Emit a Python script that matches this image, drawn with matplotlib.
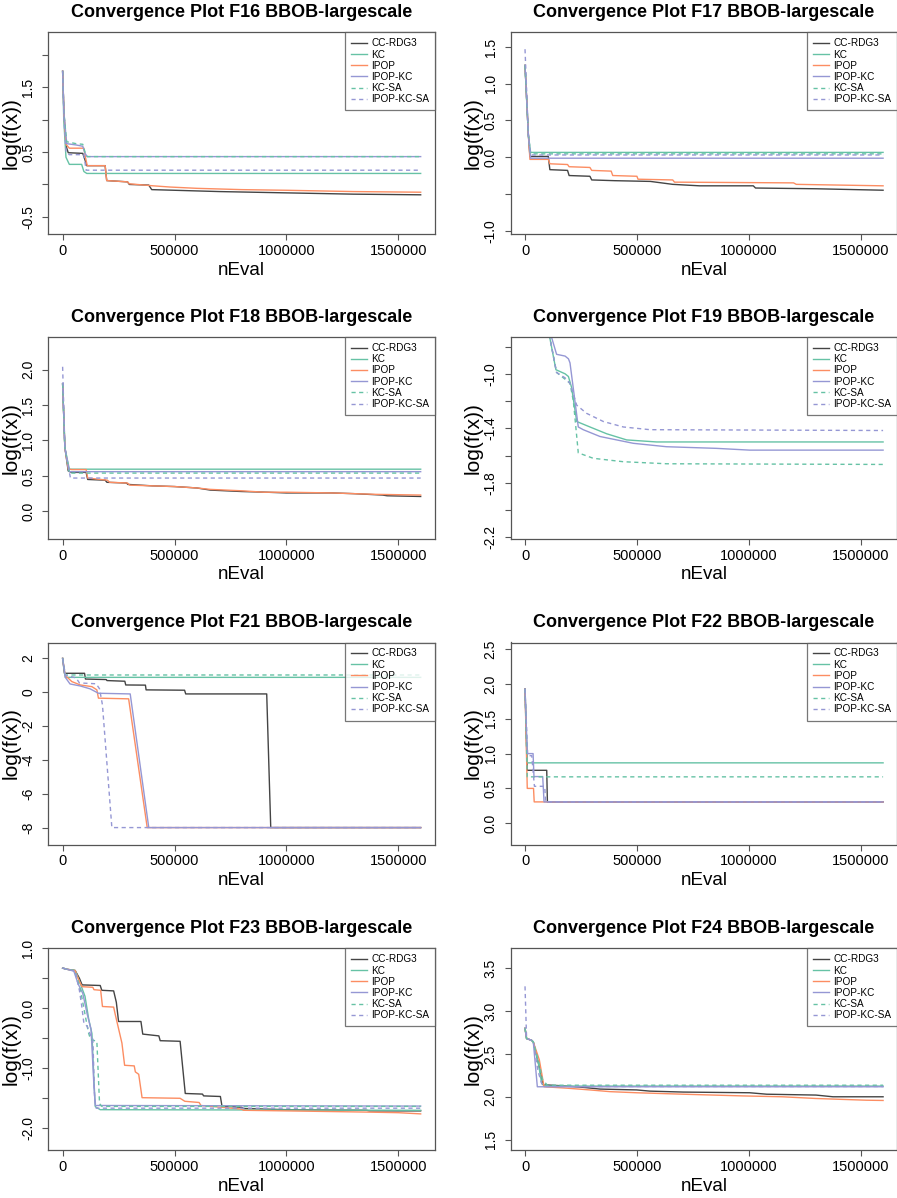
import matplotlib

matplotlib.use("Agg")

import matplotlib.pyplot as plt
import numpy as np

plt.rcParams["font.family"] = ["Liberation Sans", "DejaVu Sans"]

METHODS = ["CC-RDG3", "KC", "IPOP", "IPOP-KC", "KC-SA", "IPOP-KC-SA"]
X_TICKS = [0, 500000, 1000000, 1500000]
X_TICK_LABELS = ["0", "500000", "1000000", "1500000"]

# (nEval in thousands, log(f(x)))
F16 = {
    "CC-RDG3": [(0, 1.75), (6, 1.1), (15, 0.6), (25, 0.49), (90, 0.48), (98, 0.4), (108, 0.29), (190, 0.29),
                (197, 0.06), (290, 0.04), (298, 0.0), (385, -0.01), (398, -0.08), (500, -0.09), (700, -0.11),
                (1000, -0.13), (1300, -0.15), (1600, -0.16)],
    "KC": [(0, 1.75), (5, 1.0), (15, 0.42), (30, 0.31), (85, 0.31), (95, 0.2), (108, 0.17), (1600, 0.17)],
    "IPOP": [(0, 1.75), (6, 1.1), (15, 0.62), (30, 0.56), (95, 0.56), (102, 0.42), (110, 0.29), (190, 0.29),
             (197, 0.06), (290, 0.04), (298, 0.01), (400, -0.02), (480, -0.04), (600, -0.06), (800, -0.08),
             (1000, -0.09), (1300, -0.11), (1600, -0.12)],
    "IPOP-KC": [(0, 1.75), (6, 1.1), (18, 0.63), (60, 0.61), (90, 0.59), (100, 0.48), (110, 0.43), (1600, 0.43)],
    "KC-SA": [(0, 1.75), (6, 1.1), (18, 0.66), (60, 0.63), (90, 0.62), (100, 0.5), (110, 0.43), (1600, 0.43)],
    "IPOP-KC-SA": [(0, 1.75), (6, 1.0), (15, 0.5), (30, 0.46), (95, 0.46), (105, 0.22), (1600, 0.22)],
}
F17 = {
    "CC-RDG3": [(0, 1.25), (15, 0.3), (22, 0.01), (104, 0.01), (111, -0.17), (190, -0.18), (197, -0.25),
                (290, -0.26), (298, -0.31), (400, -0.32), (560, -0.33), (660, -0.37), (780, -0.39),
                (1020, -0.39), (1030, -0.42), (1300, -0.43), (1600, -0.45)],
    "KC": [(0, 1.25), (15, 0.3), (25, 0.065), (1600, 0.065)],
    "IPOP": [(0, 1.25), (15, 0.3), (22, -0.03), (104, -0.03), (111, -0.09), (190, -0.1), (197, -0.13),
             (290, -0.14), (298, -0.18), (385, -0.19), (392, -0.25), (500, -0.26), (505, -0.3), (660, -0.31),
             (668, -0.34), (1200, -0.35), (1212, -0.37), (1600, -0.39)],
    "IPOP-KC": [(0, 1.25), (15, 0.3), (25, -0.014), (1600, -0.014)],
    "KC-SA": [(0, 1.25), (15, 0.3), (25, 0.045), (1600, 0.045)],
    "IPOP-KC-SA": [(0, 1.47), (15, 0.3), (25, 0.03), (1600, 0.03)],
}
F18 = {
    "CC-RDG3": [(0, 1.8), (10, 0.9), (25, 0.57), (40, 0.55), (105, 0.55), (112, 0.45), (190, 0.44),
                (198, 0.41), (285, 0.4), (292, 0.38), (400, 0.36), (500, 0.35), (600, 0.33), (660, 0.3),
                (800, 0.28), (912, 0.27), (1000, 0.26), (1200, 0.26), (1300, 0.25), (1430, 0.23),
                (1450, 0.22), (1600, 0.21)],
    "KC": [(0, 1.8), (10, 0.9), (30, 0.595), (1600, 0.595)],
    "IPOP": [(0, 1.8), (10, 0.9), (25, 0.6), (40, 0.59), (105, 0.59), (112, 0.47), (200, 0.44), (210, 0.41),
             (290, 0.4), (300, 0.37), (400, 0.36), (500, 0.35), (600, 0.33), (660, 0.31), (800, 0.29),
             (900, 0.27), (1000, 0.27), (1200, 0.26), (1400, 0.24), (1600, 0.23)],
    "IPOP-KC": [(0, 1.8), (10, 0.9), (30, 0.56), (1600, 0.56)],
    "KC-SA": [(0, 1.8), (10, 0.9), (30, 0.54), (1600, 0.54)],
    "IPOP-KC-SA": [(0, 2.04), (10, 0.9), (35, 0.47), (1600, 0.47)],
}
F19 = {
    "CC-RDG3": [],
    "KC": [(95, -0.6), (138, -0.97), (179, -1.0), (194, -1.02), (208, -1.1), (231, -1.35), (290, -1.39),
           (365, -1.44), (454, -1.485), (588, -1.5), (1600, -1.5)],
    "IPOP": [],
    "IPOP-KC": [(95, -0.6), (141, -0.857), (179, -0.87), (194, -0.89), (201, -0.92), (238, -1.39),
                (260, -1.41), (335, -1.46), (484, -1.51), (632, -1.535), (856, -1.547), (1004, -1.56),
                (1600, -1.56)],
    "KC-SA": [(95, -0.6), (141, -0.99), (179, -1.04), (201, -1.07), (216, -1.2), (238, -1.58), (305, -1.62),
              (439, -1.645), (632, -1.66), (1600, -1.665)],
    "IPOP-KC-SA": [(95, -0.6), (141, -0.99), (179, -1.03), (201, -1.07), (231, -1.23), (275, -1.29),
                   (350, -1.35), (439, -1.39), (558, -1.41), (1600, -1.416)],
}
F21 = {
    "CC-RDG3": [(0, 2.0), (8, 1.12), (98, 1.12), (102, 0.78), (195, 0.75), (198, 0.69), (278, 0.65),
                (282, 0.43), (370, 0.42), (373, 0.14), (545, 0.12), (550, -0.1), (912, -0.1), (930, -8.0),
                (1600, -8.0)],
    "KC": [(0, 2.0), (12, 0.88), (1600, 0.88)],
    "IPOP": [(0, 2.0), (12, 0.96), (26, 0.82), (41, 0.63), (79, 0.43), (131, 0.33), (153, 0.14), (160, -0.35),
             (295, -0.39), (378, -8.0), (1600, -8.0)],
    "IPOP-KC": [(0, 2.0), (12, 0.88), (33, 0.49), (79, 0.37), (123, 0.2), (160, -0.06), (302, -0.1),
                (385, -8.0), (1600, -8.0)],
    "KC-SA": [(0, 2.0), (12, 1.02), (1600, 1.02)],
    "IPOP-KC-SA": [(0, 2.0), (12, 1.0), (60, 0.85), (75, 0.55), (150, 0.5), (165, 0.2), (178, -0.75),
                   (220, -8.0), (1600, -8.0)],
}
F22 = {
    "CC-RDG3": [(0, 1.93), (10, 0.76), (97, 0.76), (100, 0.306), (1600, 0.306)],
    "KC": [(0, 1.93), (10, 0.867), (1600, 0.867)],
    "IPOP": [(0, 1.93), (10, 0.5), (38, 0.5), (41, 0.306), (1600, 0.306)],
    "IPOP-KC": [(0, 1.93), (10, 1.0), (36, 1.0), (40, 0.67), (79, 0.67), (85, 0.306), (1600, 0.306)],
    "KC-SA": [(0, 1.93), (10, 0.666), (1600, 0.666)],
    "IPOP-KC-SA": [(0, 1.93), (12, 0.97), (30, 0.97), (42, 0.53), (88, 0.53), (92, 0.306), (1600, 0.306)],
}
F23 = {
    "CC-RDG3": [(0, 0.67), (20, 0.65), (56, 0.63), (75, 0.5), (87, 0.39), (168, 0.38), (175, 0.3), (228, 0.29),
                (240, 0.1), (250, -0.22), (350, -0.22), (358, -0.43), (430, -0.46), (436, -0.54), (525, -0.55),
                (548, -1.42), (625, -1.43), (630, -1.46), (705, -1.47), (712, -1.63), (800, -1.65),
                (808, -1.67), (1000, -1.69), (1358, -1.7), (1370, -1.71), (1600, -1.71)],
    "KC": [(0, 0.67), (20, 0.65), (56, 0.63), (80, 0.4), (100, 0.2), (117, -0.19), (131, -0.42), (140, -1.2),
           (146, -1.64), (168, -1.69), (1600, -1.7)],
    "IPOP": [(0, 0.67), (20, 0.65), (56, 0.63), (75, 0.45), (87, 0.36), (135, 0.35), (140, 0.31), (170, 0.3),
             (178, 0.03), (228, 0.02), (235, -0.1), (265, -0.58), (277, -0.95), (320, -0.96), (325, -1.06),
             (340, -1.1), (355, -1.49), (525, -1.5), (546, -1.55), (610, -1.57), (618, -1.62), (800, -1.68),
             (808, -1.7), (1000, -1.71), (1358, -1.73), (1500, -1.74), (1600, -1.76)],
    "IPOP-KC": [(0, 0.67), (20, 0.65), (50, 0.62), (70, 0.4), (90, 0.25), (110, -0.1), (127, -0.35),
                (140, -1.3), (146, -1.62), (1600, -1.63)],
    "KC-SA": [(0, 0.67), (20, 0.65), (56, 0.63), (80, 0.3), (115, -0.4), (125, -0.52), (153, -0.55),
              (165, -1.59), (175, -1.635), (1600, -1.635)],
    "IPOP-KC-SA": [(0, 0.67), (20, 0.65), (56, 0.62), (75, 0.3), (85, 0.05), (95, -0.25), (110, -0.3),
                   (125, -0.45), (135, -0.5), (143, -1.5), (150, -1.665), (1600, -1.665)],
}
F24 = {
    "CC-RDG3": [(0, 2.8), (7, 2.68), (29, 2.66), (37, 2.64), (60, 2.39), (81, 2.14), (156, 2.13), (260, 2.11),
                (335, 2.09), (499, 2.08), (558, 2.066), (707, 2.055), (1004, 2.047), (1080, 2.03),
                (1300, 2.02), (1376, 2.0), (1600, 2.0)],
    "KC": [(0, 2.8), (7, 2.68), (29, 2.66), (37, 2.64), (60, 2.39), (74, 2.16), (97, 2.125), (1600, 2.125)],
    "IPOP": [(0, 2.8), (7, 2.68), (29, 2.66), (37, 2.64), (64, 2.43), (85, 2.117), (190, 2.1), (290, 2.08),
             (379, 2.06), (499, 2.047), (707, 2.03), (975, 2.01), (1150, 2.0), (1300, 1.98), (1525, 1.96),
             (1600, 1.957)],
    "IPOP-KC": [(0, 2.8), (7, 2.68), (29, 2.66), (37, 2.64), (55, 2.117), (1600, 2.117)],
    "KC-SA": [(0, 2.8), (7, 2.68), (29, 2.66), (37, 2.64), (62, 2.4), (78, 2.2), (100, 2.135), (1600, 2.135)],
    "IPOP-KC-SA": [(0, 3.29), (7, 2.68), (29, 2.66), (37, 2.64), (58, 2.3), (75, 2.15), (95, 2.12),
                   (1600, 2.12)],
}

# name, data, ylim, y ticks, y tick labels ("" = tick without label)
PANELS = [
    ("F16", F16, (-0.77, 2.35), [-0.5, 0.0, 0.5, 1.0, 1.5, 2.0], ["-0.5", "", "0.5", "", "1.5", ""]),
    ("F17", F17, (-1.05, 1.70), [-1.0, -0.5, 0.0, 0.5, 1.0, 1.5], ["-1.0", "", "0.0", "0.5", "1.0", "1.5"]),
    ("F18", F18, (-0.39, 2.46), [0.0, 0.5, 1.0, 1.5, 2.0], ["0.0", "0.5", "1.0", "1.5", "2.0"]),
    ("F19", F19, (-2.212, -0.73), [-2.2, -2.0, -1.8, -1.6, -1.4, -1.2, -1.0, -0.8],
     ["-2.2", "", "-1.8", "", "-1.4", "", "-1.0", ""]),
    ("F21", F21, (-9.0, 2.94), [-8, -6, -4, -2, 0, 2], ["-8", "-6", "-4", "-2", "0", "2"]),
    ("F22", F22, (-0.306, 2.596), [0.0, 0.5, 1.0, 1.5, 2.0, 2.5], ["0.0", "0.5", "1.0", "1.5", "2.0", "2.5"]),
    ("F23", F23, (-2.367, 1.0), [-2.0, -1.5, -1.0, -0.5, 0.0, 0.5, 1.0], ["-2.0", "", "-1.0", "", "0.0", "", "1.0"]),
    ("F24", F24, (1.375, 3.734), [1.5, 2.0, 2.5, 3.0, 3.5], ["1.5", "2.0", "2.5", "3.0", "3.5"]),
]

COLORS = {"CC-RDG3": "#444444", "KC": "#66C2A5", "IPOP": "#FC8D62", "IPOP-KC": "#9597D4",
          "KC-SA": "#66C2A5", "IPOP-KC-SA": "#9597D4"}
FRAME = "#555555"

W, H = 897, 1198
fig = plt.figure(figsize=(W / 100, H / 100), dpi=100)

col_left = [48.3, 510.7]
row_top = [32.3, 337.0, 642.5, 948.3]
box_w, box_h = 386.7, 202.0

for i, (name, data, ylim, yticks, ylabels) in enumerate(PANELS):
    r, c = divmod(i, 2)
    ax = fig.add_axes([col_left[c] / W, 1 - (row_top[r] + box_h) / H, box_w / W, box_h / H])
    for m in METHODS:
        pts = np.array(data[m], dtype=float).reshape(-1, 2)
        ls = (0, (3, 2.5)) if m.endswith("SA") else "-"
        ax.plot(pts[:, 0] * 1000, pts[:, 1], color=COLORS[m], lw=1.0, linestyle=ls, label=m)

    ax.set_xlim(-64000, 1664000)
    ax.set_ylim(*ylim)
    ax.set_xticks(X_TICKS)
    ax.set_xticklabels(X_TICK_LABELS)
    ax.set_yticks(yticks)
    ax.set_yticklabels(ylabels)
    ax.tick_params(axis="both", direction="out", length=4, width=0.8, color=FRAME, labelsize=10.5)
    ax.tick_params(axis="x", pad=3)
    ax.tick_params(axis="y", pad=5.5, labelsize=10, labelrotation=90)
    for lab in ax.get_yticklabels():
        lab.set_verticalalignment("center")
    for sp in ax.spines.values():
        sp.set_color(FRAME)
        sp.set_linewidth(0.9)

    ax.set_title(f"Convergence Plot {name} BBOB-largescale", fontsize=13, fontweight="bold", pad=11)
    ax.set_xlabel("nEval", fontsize=13.5)
    ax.xaxis.set_label_coords(0.5, -0.135)
    ax.set_ylabel("log(f(x))", fontsize=15)
    ax.yaxis.set_label_coords(-0.0725, 0.5)

    leg = ax.legend(loc="upper right", fontsize=7.2, frameon=True, fancybox=False, borderaxespad=0,
                    handlelength=1.6, handletextpad=0.4, labelspacing=0.12, borderpad=0.6)
    leg.get_frame().set_edgecolor(FRAME)
    leg.get_frame().set_linewidth(0.9)

fig.savefig("out.png", dpi=100)
plt.close(fig)
